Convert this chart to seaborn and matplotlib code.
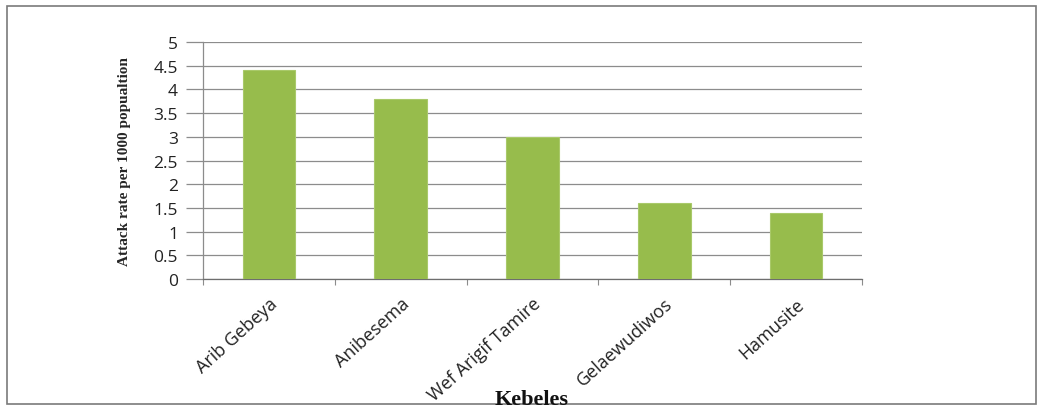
import matplotlib
matplotlib.use("Agg")
import matplotlib.pyplot as plt
from matplotlib.patches import Rectangle
import seaborn as sns
import pandas as pd

kebeles = ["Arib Gebeya", "Anibesema", "Wef Arigif Tamire", "Gelaewudiwos", "Hamusite"]
attack_rate = [4.4, 3.8, 3.0, 1.6, 1.4]
y_ticks = [0, 0.5, 1, 1.5, 2, 2.5, 3, 3.5, 4, 4.5, 5]
y_tick_labels = ["0", "0.5", "1", "1.5", "2", "2.5", "3", "3.5", "4", "4.5", "5"]

df = pd.DataFrame({"Kebele": kebeles, "Rate": attack_rate})

sns.set_theme(style="white")
plt.rcParams["font.family"] = ["Open Sans", "DejaVu Sans"]

fig = plt.figure(figsize=(10.46, 4.10), dpi=100)
ax = fig.add_axes([203 / 1046, 1 - 280 / 410, (862 - 203) / 1046, (280 - 43) / 410])

sns.barplot(data=df, x="Kebele", y="Rate", color="#97BC4C", width=0.4,
            saturation=1, edgecolor="#A9C96A", linewidth=0.8, ax=ax, zorder=3)

ax.set_xlim(-0.5, len(kebeles) - 0.5)
ax.set_ylim(0, 5)
ax.set_yticks(y_ticks)
ax.set_yticklabels(y_tick_labels, fontsize=12.5, color="#222222")
ax.yaxis.grid(True, color="#8C8C8C", linewidth=0.9, zorder=0)
ax.tick_params(axis="y", which="major", length=12, width=0.9, color="#8C8C8C",
               left=True, pad=6)

# category labels, with separators between categories on the x axis
ax.set_xticks(range(len(kebeles)))
ax.set_xticklabels(kebeles, rotation=42, ha="right", rotation_mode="anchor",
                   fontsize=13, color="#222222")
ax.tick_params(axis="x", which="major", length=0, pad=11)
ax.set_xticks([i + 0.5 for i in range(-1, len(kebeles))], minor=True)
ax.tick_params(axis="x", which="minor", length=4, width=0.8, color="#8C8C8C",
               bottom=True)

for side in ["top", "right"]:
    ax.spines[side].set_visible(False)
ax.spines["left"].set_color("#8C8C8C")
ax.spines["bottom"].set_color("#6E6E6E")
ax.spines["left"].set_linewidth(0.9)
ax.spines["bottom"].set_linewidth(0.9)

ax.set_xlabel("")
ax.set_ylabel("Attack rate per 1000 popualtion", fontsize=11, fontweight="bold",
              family="Liberation Serif")
ax.yaxis.set_label_coords(-0.109, 0.5)
fig.text(532 / 1046, 1 - 400 / 410, "Kebeles", fontsize=16, fontweight="bold",
         family="Liberation Serif", ha="center", va="center", color="#111111")

# outer frame around the chart area
fig.patches.append(Rectangle((7 / 1046, 1 - 405 / 410), (1036 - 7) / 1046, (405 - 7) / 410,
                             transform=fig.transFigure, fill=False,
                             edgecolor="#7A7A7A", linewidth=1.2))

fig.savefig("out.png", dpi=100)
